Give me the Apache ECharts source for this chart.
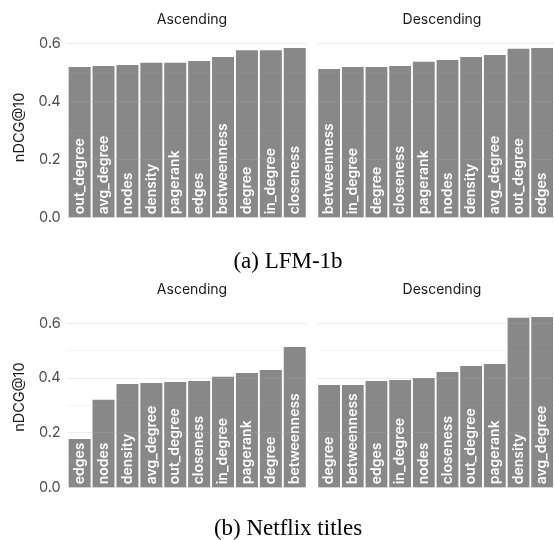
<!DOCTYPE html>
<html>
<head>
<meta charset="utf-8">
<script src="https://cdn.jsdelivr.net/npm/echarts@6/dist/echarts.min.js"></script>
<style>
  html, body { margin: 0; padding: 0; background: #ffffff; }
  #chart { width: 554px; height: 540px; }
</style>
</head>
<body>
<div id="chart"></div>
<script>
// nDCG@10 per ordering feature, LFM-1b dataset
const lfmAscCategories = ['out_degree', 'avg_degree', 'nodes', 'density', 'pagerank', 'edges', 'betweenness', 'degree', 'in_degree', 'closeness'];
const lfmAscValues = [0.518, 0.522, 0.525, 0.533, 0.533, 0.539, 0.553, 0.576, 0.576, 0.584];
const lfmDescCategories = ['betweenness', 'in_degree', 'degree', 'closeness', 'pagerank', 'nodes', 'density', 'avg_degree', 'out_degree', 'edges'];
const lfmDescValues = [0.511, 0.518, 0.518, 0.522, 0.536, 0.542, 0.553, 0.560, 0.581, 0.584];

// nDCG@10 per ordering feature, Netflix titles dataset
const nfAscCategories = ['edges', 'nodes', 'density', 'avg_degree', 'out_degree', 'closeness', 'in_degree', 'pagerank', 'degree', 'betweenness'];
const nfAscValues = [0.177, 0.320, 0.378, 0.382, 0.385, 0.389, 0.404, 0.418, 0.429, 0.513];
const nfDescCategories = ['degree', 'betweenness', 'edges', 'in_degree', 'nodes', 'closeness', 'out_degree', 'pagerank', 'density', 'avg_degree'];
const nfDescValues = [0.374, 0.374, 0.389, 0.393, 0.400, 0.422, 0.444, 0.451, 0.620, 0.623];

const panelTitles = ['Ascending', 'Descending'];
const captions = ['(a) LFM-1b', '(b) Netflix titles'];
const yAxisTitle = 'nDCG@10';

const FONT = 'Inter, Lato, sans-serif';
const SERIF = '"Liberation Serif", "Times New Roman", serif';
const MAJOR = 'rgba(176,176,176,0.26)';
const MINOR = 'rgba(176,176,176,0.13)';

const chart = echarts.init(document.getElementById('chart'), null, { renderer: 'canvas' });

const panels = [
  { cats: lfmAscCategories, vals: lfmAscValues, left: 67.7, top: 37.5, height: 179.8, max: 0.62, showY: true },
  { cats: lfmDescCategories, vals: lfmDescValues, left: 317.3, top: 37.5, height: 179.8, max: 0.62, showY: false },
  { cats: nfAscCategories, vals: nfAscValues, left: 67.7, top: 306.9, height: 180.4, max: 0.66, showY: true },
  { cats: nfDescCategories, vals: nfDescValues, left: 317.3, top: 306.9, height: 180.4, max: 0.66, showY: false }
];

const grids = [], xAxes = [], yAxes = [], series = [];
panels.forEach((p, i) => {
  grids.push({ left: p.left, top: p.top, width: 239, height: p.height, containLabel: false });
  xAxes.push({
    type: 'category', gridIndex: i, data: p.cats,
    axisLine: { show: false }, axisTick: { show: false }, axisLabel: { show: false },
    splitLine: { show: false }
  });
  yAxes.push({
    type: 'value', gridIndex: i, min: 0, max: p.max, interval: 0.1, z: 3,
    name: p.showY ? yAxisTitle : '',
    nameLocation: 'middle', nameRotate: 90, nameGap: 41,
    nameTextStyle: { fontFamily: FONT, fontSize: 14.5, color: '#1a1a1a' },
    axisLine: { show: false }, axisTick: { show: false },
    axisLabel: {
      show: p.showY, margin: 7, fontFamily: FONT, fontSize: 14.5, color: '#4d4d4d',
      formatter: v => {
        const r = Math.round(v * 10);
        return (Math.abs(v * 10 - r) < 1e-6 && r % 2 === 0) ? v.toFixed(1) : '';
      }
    },
    splitLine: {
      show: true,
      lineStyle: { width: 1.2, color: [MAJOR, MINOR, MAJOR, MINOR, MAJOR, MINOR, MAJOR, 'rgba(0,0,0,0)'] }
    }
  });
  series.push({
    type: 'bar', xAxisIndex: i, yAxisIndex: i, data: p.vals,
    barCategoryGap: '8%',
    itemStyle: { color: '#888888' },
    label: {
      show: true, position: 'insideBottom', rotate: 90, align: 'left', verticalAlign: 'middle',
      distance: 3, formatter: params => params.name,
      fontFamily: FONT, fontSize: 14, fontWeight: 600, color: '#ffffff'
    },
    animation: false
  });
});

const stripStyle = { fontFamily: FONT, fontSize: 14, fontWeight: 'normal', color: '#1a1a1a' };
const captionStyle = { fontFamily: SERIF, fontSize: 23, fontWeight: 'normal', color: '#000000' };
const titles = [];
[16.5, 286.5].forEach(y => {
  titles.push({ text: panelTitles[0], left: 187, top: y - 8.5, textAlign: 'center', textStyle: stripStyle });
  titles.push({ text: panelTitles[1], left: 437, top: y - 8.5, textAlign: 'center', textStyle: stripStyle });
});
titles.push({ text: captions[0], left: 283, top: 245, textAlign: 'center', textStyle: captionStyle });
titles.push({ text: captions[1], left: 283, top: 512, textAlign: 'center', textStyle: captionStyle });

chart.setOption({
  animation: false,
  backgroundColor: '#ffffff',
  title: titles,
  grid: grids,
  xAxis: xAxes,
  yAxis: yAxes,
  series: series
});
</script>
</body>
</html>
